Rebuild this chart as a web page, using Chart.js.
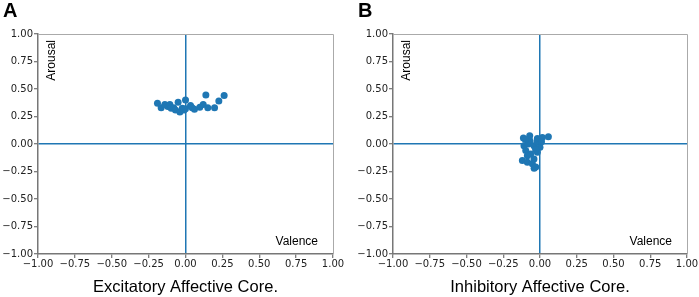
<!DOCTYPE html>
<html>
<head>
<meta charset="utf-8">
<script src="https://cdn.jsdelivr.net/npm/chart.js@4.4.1/dist/chart.umd.min.js"></script>
<style>
  body { margin: 0; background: #fff; }
  canvas { position: absolute; top: 0; }
  #chartA { left: 0; }
  #chartB { left: 349px; }
</style>
</head>
<body>
<canvas id="chartA" width="349" height="297"></canvas>
<canvas id="chartB" width="350" height="297"></canvas>
<script>
// panel A - excitatory affective core
const excValence = [-0.19, -0.165, -0.14, -0.12, -0.106, -0.097, -0.08, -0.068, -0.05, -0.038, -0.022, -0.01, 0.0, 0.0, 0.034, 0.045, 0.061, 0.097, 0.12, 0.138, 0.151, 0.197, 0.226, 0.262];
const excArousal = [0.37, 0.33, 0.36, 0.34, 0.36, 0.325, 0.33, 0.31, 0.38, 0.29, 0.325, 0.31, 0.40, 0.32, 0.35, 0.33, 0.315, 0.335, 0.36, 0.445, 0.33, 0.33, 0.39, 0.44];

// panel B - inhibitory affective core
const inhValence = [-0.113, -0.068, -0.07, -0.018, 0.016, 0.057, -0.109, -0.08, -0.097, -0.041, -0.02, 0.0, -0.018, -0.063, -0.03, -0.086, -0.041, -0.12, -0.086, -0.052, -0.029, -0.04, 0.01, -0.1];
const inhArousal = [0.055, 0.03, 0.075, 0.05, 0.06, 0.066, -0.015, 0.0, -0.06, -0.015, 0.02, -0.03, -0.076, -0.09, -0.05, -0.106, -0.136, -0.15, -0.167, -0.18, -0.21, -0.22, 0.02, 0.04];

const tickValues = [-1, -0.75, -0.5, -0.25, 0, 0.25, 0.5, 0.75, 1];

const BLUE = '#1f77b4';

function fmt(v) {
    return (v < 0 ? '\u2212' : '') + Math.abs(v).toFixed(2);
}

const extras = {
    id: 'extras',
    afterDraw(chart) {
        const ctx = chart.ctx;
        const a = chart.chartArea;
        const o = chart.options.plugins.extras;
        ctx.save();
        // top and right spines
        ctx.strokeStyle = '#aaa';
        ctx.lineWidth = 1;
        ctx.beginPath();
        ctx.moveTo(a.left, a.top + 0.5);
        ctx.lineTo(a.right + 0.5, a.top + 0.5);
        ctx.lineTo(a.right + 0.5, a.bottom);
        ctx.stroke();
        // panel letter
        ctx.fillStyle = '#000';
        ctx.font = 'bold 20px "Liberation Sans", Arial, sans-serif';
        ctx.textBaseline = 'top';
        ctx.textAlign = 'left';
        ctx.fillText(o.letter, o.letterX, 1);
        // Valence label
        ctx.font = '12px "Liberation Sans", Arial, sans-serif';
        ctx.textAlign = 'right';
        ctx.textBaseline = 'middle';
        ctx.fillText('Valence', a.right - 15, a.bottom - 12.5);
        // Arousal label
        ctx.translate(a.left + 14, a.top + 6);
        ctx.rotate(-Math.PI / 2);
        ctx.fillText('Arousal', 0, 0);
        ctx.restore();
    }
};

function makeChart(id, xs, ys, title, letter, letterX, axisW, padRight) {
    const points = xs.map((x, i) => ({ x: x, y: ys[i] }));
    const grid = {
        drawOnChartArea: true,
        color: c => (c.tick && c.tick.value === 0) ? BLUE : 'rgba(0,0,0,0)',
        lineWidth: 1.5,
        tickColor: '#555',
        tickWidth: 1,
        tickLength: 4
    };
    const tickFont = { family: '"DejaVu Sans", sans-serif', size: 10 };
    new Chart(document.getElementById(id), {
        type: 'scatter',
        data: {
            datasets: [{
                data: points,
                backgroundColor: BLUE,
                borderWidth: 0,
                pointRadius: 3.5
            }]
        },
        options: {
            responsive: false,
            animation: false,
            devicePixelRatio: 1,
            layout: { padding: { left: 0, right: padRight, top: 34, bottom: 0 } },
            scales: {
                x: {
                    min: -1, max: 1,
                    afterBuildTicks: s => { s.ticks = tickValues.map(v => ({ value: v })); },
                    afterFit: s => { s.height = 43; },
                    ticks: { callback: v => fmt(v), color: '#222', font: tickFont, padding: 0, maxRotation: 0, autoSkip: false },
                    grid: grid,
                    border: { color: '#777', width: 1.5 },
                    title: {
                        display: true,
                        text: title,
                        color: '#000',
                        font: { family: '"Liberation Sans", Arial, sans-serif', size: 16.5 },
                        padding: 0
                    }
                },
                y: {
                    min: -1, max: 1,
                    afterBuildTicks: s => { s.ticks = tickValues.map(v => ({ value: v })); },
                    afterFit: s => { s.width = axisW; },
                    ticks: { callback: v => fmt(v), color: '#222', font: tickFont, padding: 1, autoSkip: false },
                    grid: grid,
                    border: { color: '#777', width: 1.5 }
                }
            },
            plugins: {
                legend: { display: false },
                tooltip: { enabled: false },
                extras: { letter: letter, letterX: letterX }
            }
        },
        plugins: [extras]
    });
}

makeChart('chartA', excValence, excArousal, 'Excitatory Affective Core.', 'A', 3, 38, 16);
makeChart('chartB', inhValence, inhArousal, 'Inhibitory Affective Core.', 'B', 9, 44, 12);
</script>
</body>
</html>
